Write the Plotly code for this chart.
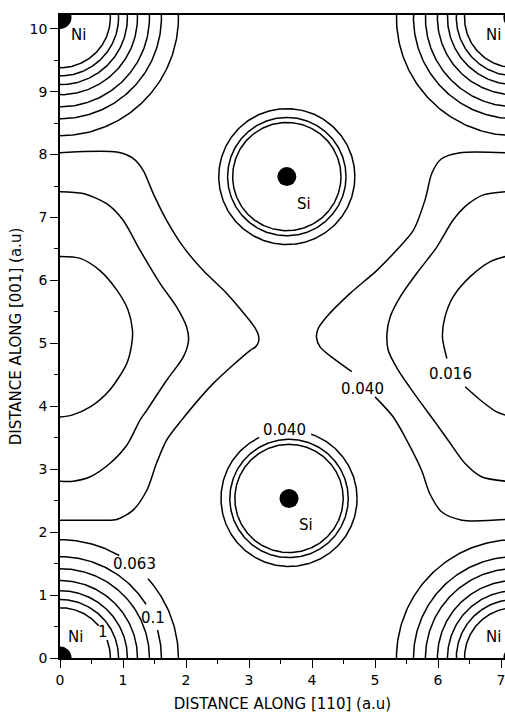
import numpy as np
import plotly.graph_objects as go

# ---------------- data (atomic units) ----------------
# atom sites
ni_x = [0.0, 0.0, 7.22, 7.22]
ni_y = [0.0, 10.18, 0.0, 10.18]
si_x = [3.60, 3.635]
si_y = [7.65, 2.535]

# near-circular contours around every Ni site (radii) and Si site (radii)
ni_radii = [0.80, 0.93, 1.07, 1.23, 1.42, 1.61, 1.88]
si_radii = [0.86, 0.94, 1.08]

# gaps left for contour labels: (site kind, site index, radius index, from deg, to deg)
ring_gaps = [
    ("ni", 0, 6, 43, 59),    # 0.063
    ("ni", 0, 5, 17, 31),    # 0.1
    ("ni", 0, 0, 22, 39),    # 1
    ("si", 1, 2, 72, 115),   # 0.040
]

# open contours, left half
left_040_x = [0.0, 0.90, 1.16, 1.32, 1.48, 1.69, 1.96, 2.27, 2.65, 3.02, 3.10, 3.15, 3.15,
              3.10, 3.02, 2.43, 1.93, 1.69, 1.53, 1.38, 1.16, 0.90, 0.63, 0.0]
left_040_y = [8.03, 8.04, 7.94, 7.75, 7.38, 6.96, 6.53, 6.16, 5.79, 5.35, 5.24, 5.13, 5.02,
              4.94, 4.89, 4.36, 3.78, 3.46, 3.09, 2.67, 2.35, 2.20, 2.19, 2.19]
left_025_x = [0.0, 0.37, 0.74, 1.00, 1.27, 1.59, 1.85, 2.01, 2.04, 1.96, 1.69, 1.38, 1.27,
              1.06, 0.79, 0.48, 0.21, 0.0]
left_025_y = [7.41, 7.38, 7.22, 6.96, 6.48, 5.95, 5.58, 5.26, 5.05, 4.79, 4.41, 3.94, 3.78,
              3.38, 3.09, 2.88, 2.81, 2.81]
left_016_x = [0.0, 0.32, 0.63, 0.90, 1.08, 1.15, 1.14, 1.06, 0.79, 0.48, 0.19, 0.0]
left_016_y = [6.38, 6.35, 6.16, 5.85, 5.53, 5.21, 5.00, 4.68, 4.26, 3.99, 3.86, 3.83]

# open contours, right half (None = gap for a label)
right_040_x = [7.07, 6.35, 6.05, 5.90, 5.80, 5.61, 5.34, 5.03, 4.60, 4.23, 4.10, 4.07, 4.13,
               4.34, 4.63, None, 5.00, 5.29, 5.53, 5.74, 5.87, 6.06, 6.38, 7.07]
right_040_y = [8.03, 8.03, 7.93, 7.70, 7.30, 6.80, 6.48, 6.16, 5.79, 5.42, 5.24, 5.10, 4.94,
               4.76, 4.55, None, 4.15, 3.83, 3.41, 2.98, 2.61, 2.32, 2.19, 2.20]
right_025_x = [7.07, 6.72, 6.46, 6.24, 5.98, 5.66, 5.40, 5.24, 5.19, 5.21, 5.37, 5.66, 5.96,
               6.16, 6.43, 6.69, 7.07]
right_025_y = [7.41, 7.36, 7.20, 6.96, 6.53, 6.11, 5.74, 5.42, 5.16, 4.89, 4.57, 4.15, 3.74,
               3.46, 3.09, 2.88, 2.81]
right_016_x = [7.07, 6.83, 6.51, 6.24, 6.11, 6.07, 6.14, None, 6.43, 6.67, 6.93, 7.07]
right_016_y = [6.38, 6.30, 6.06, 5.74, 5.42, 5.10, 4.76, None, 4.31, 4.10, 3.91, 3.86]

x_ticks = [0, 1, 2, 3, 4, 5, 6, 7]
y_ticks = [0, 1, 2, 3, 4, 5, 6, 7, 8, 9, 10]
x_minor = [0.5, 1.5, 2.5, 3.5, 4.5, 5.5, 6.5]
y_minor = [0.5, 1.5, 2.5, 3.5, 4.5, 5.5, 6.5, 7.5, 8.5, 9.5]

x_title = "DISTANCE ALONG [110] (a.u)"
y_title = "DISTANCE ALONG [001] (a.u)"

# ---------------- figure ----------------
FONT = "DejaVu Sans"
fig = go.Figure()
line_style = dict(color="black", width=1.5, shape="spline", smoothing=0.8)

for xs, ys in [(left_040_x, left_040_y), (left_025_x, left_025_y), (left_016_x, left_016_y),
               (right_040_x, right_040_y), (right_025_x, right_025_y),
               (right_016_x, right_016_y)]:
    fig.add_trace(go.Scatter(x=xs, y=ys, mode="lines", line=line_style,
                             connectgaps=False, hoverinfo="skip", showlegend=False))

deg = np.arange(0, 361, 1.0)


def ring(cx, cy, r, gaps):
    xs, ys = [], []
    for a in deg:
        if any(g0 <= a <= g1 for g0, g1 in gaps):
            xs.append(None)
            ys.append(None)
        else:
            xs.append(float(cx + r * np.cos(np.radians(a))))
            ys.append(float(cy + r * np.sin(np.radians(a))))
    return xs, ys


sites = {"ni": (ni_x, ni_y, ni_radii), "si": (si_x, si_y, si_radii)}
for kind, (sx, sy, radii) in sites.items():
    for i in range(len(sx)):
        for k, r in enumerate(radii):
            gaps = [(g[3], g[4]) for g in ring_gaps if g[0] == kind and g[1] == i and g[2] == k]
            xs, ys = ring(sx[i], sy[i], r, gaps)
            fig.add_trace(go.Scatter(x=xs, y=ys, mode="lines",
                                     line=dict(color="black", width=1.5),
                                     connectgaps=False, hoverinfo="skip", showlegend=False))

# atoms
fig.add_trace(go.Scatter(x=ni_x, y=ni_y, mode="markers", cliponaxis=True,
                         marker=dict(color="black", size=23, line=dict(width=0)),
                         hoverinfo="skip", showlegend=False))
fig.add_trace(go.Scatter(x=si_x, y=si_y, mode="markers", cliponaxis=True,
                         marker=dict(color="black", size=19, line=dict(width=0)),
                         hoverinfo="skip", showlegend=False))

labels = [
    ("Ni", 0.30, 9.90), ("Ni", 6.88, 9.90), ("Ni", 0.25, 0.33), ("Ni", 6.88, 0.33),
    ("Si", 3.88, 7.22), ("Si", 3.90, 2.11),
    ("0.040", 3.56, 3.62), ("0.040", 4.80, 4.28), ("0.016", 6.20, 4.51),
    ("0.063", 1.18, 1.50), ("0.1", 1.47, 0.64), ("1", 0.68, 0.42),
]
for t, x, y in labels:
    fig.add_annotation(x=x, y=y, text=t, showarrow=False, xref="x", yref="y",
                       font=dict(family=FONT, size=15, color="black"))

axis_common = dict(ticks="outside", ticklen=8, tickwidth=1.3, tickcolor="black",
                   showline=True, linecolor="black", linewidth=1.5, showgrid=False,
                   zeroline=False, tickfont=dict(family=FONT, size=14, color="black"))

fig.update_xaxes(range=[0, 7.063], tickmode="array", tickvals=x_ticks, mirror=True,
                 ticklabeloverflow="allow",
                 minor=dict(tickmode="array", tickvals=x_minor, ticks="outside", ticklen=4,
                            tickwidth=1.3, tickcolor="black", showgrid=False),
                 title=dict(text=x_title, standoff=12,
                            font=dict(family=FONT, size=15, color="black")),
                 **axis_common)
fig.update_yaxes(range=[0, 10.218], tickmode="array", tickvals=y_ticks, mirror=False,
                 minor=dict(tickmode="array", tickvals=y_minor, ticks="outside", ticklen=4,
                            tickwidth=1.3, tickcolor="black", showgrid=False),
                 title=dict(text=y_title, standoff=4,
                            font=dict(family=FONT, size=15, color="black")),
                 **axis_common)

fig.update_layout(width=505, height=713, margin=dict(l=60, r=0, t=15, b=55),
                  plot_bgcolor="white", paper_bgcolor="white", showlegend=False,
                  font=dict(family=FONT, size=14, color="black"))

fig.write_html("out.html")
